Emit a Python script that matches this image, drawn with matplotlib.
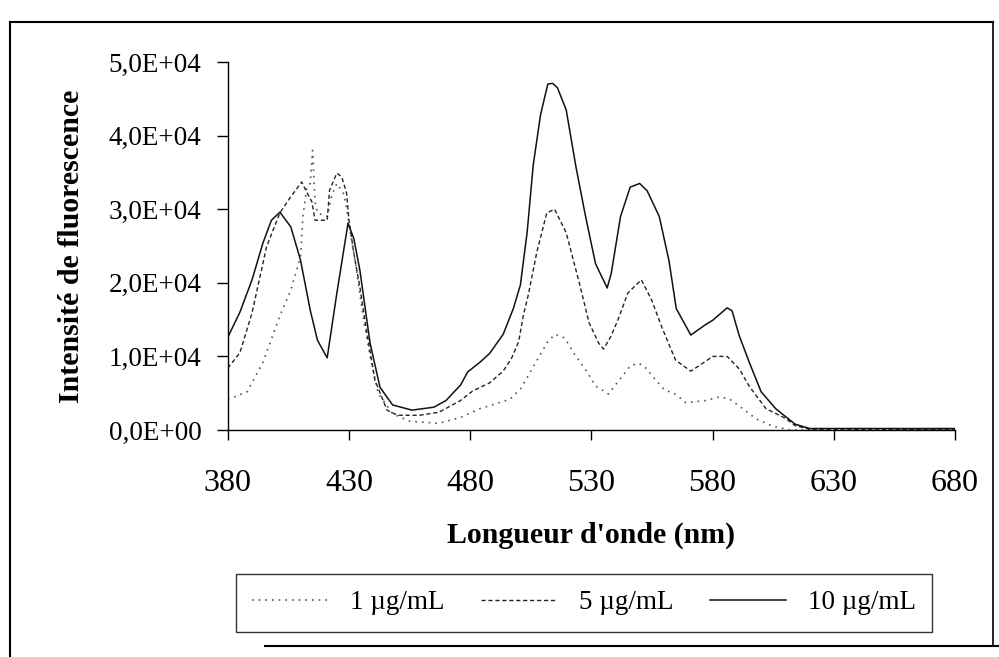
import numpy as np
import matplotlib.pyplot as plt
from matplotlib.lines import Line2D
from matplotlib.ticker import FuncFormatter

plt.rcParams['font.family'] = ['Liberation Serif', 'DejaVu Serif']

# ── Data (intensity in counts) ───────────────────────────────────────────────
wl_1 = [380, 382, 388, 394.5, 401.5, 406, 410, 411, 412.6, 414,
        415, 416, 417, 421, 423, 425, 428, 430, 433, 436,
        439, 442, 448, 455, 467, 476, 484, 490, 496.5, 501,
        505, 509, 512, 515, 519, 522.6, 528.4, 531.6, 537, 542,
        546, 549.5, 552.5, 556, 560, 565, 569, 577, 583, 587,
        592, 598, 605, 612, 630, 660, 680]
int_1 = [4200, 4400, 5200, 9200, 15500, 19000, 23500, 29000, 33000, 33500,
         38000, 31000, 29500, 29000, 32000, 33500, 32000, 28000, 22000, 15000,
         9500, 5000, 2200, 1200, 900, 1700, 2900, 3500, 4200, 5700,
         8000, 10300, 12000, 13000, 12500, 10500, 7800, 6000, 4900, 7000,
         8700, 9100, 8400, 7000, 5500, 4800, 3700, 4000, 4500, 4200,
         3000, 1500, 500, 0, 0, 0, 0]

wl_5 = [380, 385, 390, 396, 401.5, 406, 410.5, 412.6, 414.7, 416,
        418, 421, 422, 425, 427, 429, 430, 432, 434.5, 437,
        440.7, 445.7, 450, 459, 467, 476, 481, 488, 493.6, 497,
        500, 502, 504, 507.5, 511.6, 514.8, 519.6, 525, 529, 533,
        535, 538, 541, 545, 550.6, 554.8, 559, 564.7, 571, 577,
        580, 586, 591, 595, 602, 610, 614, 620, 640, 660, 680]
int_5 = [8400, 10500, 15900, 24900, 29500, 31700, 33700, 32300, 31000, 28500,
         28500, 28500, 32600, 34900, 34400, 32200, 28500, 24000, 19400, 14000,
         6800, 2700, 2000, 2000, 2400, 4000, 5300, 6400, 8000, 9700,
         12000, 15700, 18400, 24200, 29500, 30000, 26800, 20000, 14600, 11800,
         11000, 12700, 15000, 18600, 20400, 17700, 14000, 9500, 8000, 9300,
         10000, 10000, 8300, 6000, 2900, 1600, 600, 100, 100, 100, 100]

wl_10 = [380, 385, 390, 394.5, 398, 401.5, 406, 410, 414, 417,
         421, 425, 429.6, 432, 434.5, 438.7, 442.8, 448, 456, 465,
         470, 476, 479, 484, 488, 493.6, 497.8, 500.7, 503.5, 506,
         509, 512, 514, 516, 519.6, 523.6, 527.6, 531.7, 536.5, 538.2,
         542, 546, 549.9, 553, 558, 562, 565, 571, 577, 580,
         586, 588, 591, 595, 600, 606, 614, 620, 650, 680]
int_10 = [12600, 16000, 20400, 25400, 28500, 29600, 27600, 23100, 16300, 12200,
          9800, 18600, 28100, 26000, 21700, 11800, 5800, 3400, 2700, 3100,
          4000, 6100, 7900, 9200, 10400, 13000, 16500, 19700, 26900, 36000,
          42800, 47000, 47100, 46500, 43500, 35800, 29000, 22600, 19300, 21300,
          29000, 33000, 33500, 32500, 29000, 23000, 16500, 12900, 14300, 14900,
          16600, 16200, 12800, 9300, 5200, 2900, 800, 200, 200, 200]

labels = ['1 µg/mL', '5 µg/mL', '10 µg/mL']

# ── Figure ───────────────────────────────────────────────────────────────────
fig = plt.figure(figsize=(9.99, 6.57), dpi=100)
ax = fig.add_axes([0.228, 0.3455, 0.728, 0.5601])

ax.plot(wl_1, int_1, color='#555555', lw=1.2, ls=(0, (1, 3)), label=labels[0])
ax.plot(wl_5, int_5, color='#222222', lw=1.0, ls=(0, (3, 2)), label=labels[1])
ax.plot(wl_10, int_10, color='#111111', lw=1.1, ls='-', label=labels[2])

ax.set_xlim(380, 680)
ax.set_ylim(0, 50000)
ax.set_xticks(np.arange(380, 681, 50))
ax.set_yticks(np.arange(0, 50001, 10000))
ax.yaxis.set_major_formatter(FuncFormatter(lambda v, p: f'{v:.1E}'.replace('.', ',')))

for s in ['top', 'right']:
    ax.spines[s].set_visible(False)
for s in ['left', 'bottom']:
    ax.spines[s].set_linewidth(1.0)
    ax.spines[s].set_color('black')

ax.tick_params(axis='y', direction='out', length=8, width=1, labelsize=19.5, pad=11)
ax.tick_params(axis='x', direction='out', length=7, width=1, labelsize=23, pad=21)

ax.set_xlabel("Longueur d'onde (nm)", fontsize=21.5, fontweight='bold', labelpad=17)
ax.set_ylabel('Intensité de fluorescence', fontsize=21.5, fontweight='bold', labelpad=17)

# ── Legend box under the plot ────────────────────────────────────────────────
fig.legend(loc='center', ncol=3, mode='expand',
           bbox_to_anchor=(0.236, 0.034, 0.697, 0.097),
           fontsize=19.5, handlelength=2.8, handletextpad=0.8,
           frameon=True, fancybox=False, edgecolor='black',
           borderaxespad=0, borderpad=0.6)

# ── Outer frame of the chart area ────────────────────────────────────────────
W, H = 999, 657
def fx(px): return px / W
def fy(py): return 1 - py / H
fig.add_artist(Line2D([fx(10), fx(993)], [fy(22), fy(22)], color='black', lw=1.5))
fig.add_artist(Line2D([fx(10), fx(10)], [fy(22), fy(657)], color='black', lw=1.5))
fig.add_artist(Line2D([fx(993), fx(993)], [fy(22), fy(645)], color='black', lw=1.2))
fig.add_artist(Line2D([fx(265), fx(999)], [fy(646), fy(646)], color='black', lw=1.5))

fig.savefig('out.png', dpi=100)
